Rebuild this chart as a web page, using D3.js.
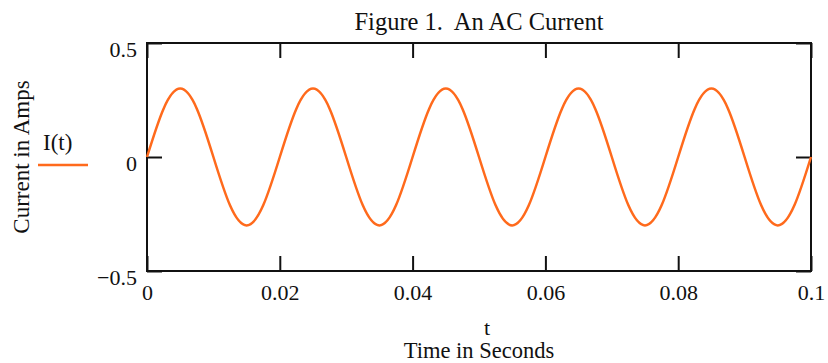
<!DOCTYPE html>
<html>
<head>
<meta charset="utf-8">
<script src="https://cdn.jsdelivr.net/npm/d3@7"></script>
<style>
  body { margin: 0; background: #fff; }
  text { font-family: "Liberation Serif", "Times New Roman", serif; fill: #111; }
</style>
</head>
<body>
<div id="chart"></div>
<script>
// Chart values (eighth-period samples of the current)
let timeValues = [
    0, 0.0025, 0.005, 0.0075, 0.01, 0.0125, 0.015, 0.0175,
    0.02, 0.0225, 0.025, 0.0275, 0.03, 0.0325, 0.035, 0.0375,
    0.04, 0.0425, 0.045, 0.0475, 0.05, 0.0525, 0.055, 0.0575,
    0.06, 0.0625, 0.065, 0.0675, 0.07, 0.0725, 0.075, 0.0775,
    0.08, 0.0825, 0.085, 0.0875, 0.09, 0.0925, 0.095, 0.0975, 0.1
];
let currentValues = [
    0, 0.212, 0.3, 0.212, 0, -0.212, -0.3, -0.212,
    0, 0.212, 0.3, 0.212, 0, -0.212, -0.3, -0.212,
    0, 0.212, 0.3, 0.212, 0, -0.212, -0.3, -0.212,
    0, 0.212, 0.3, 0.212, 0, -0.212, -0.3, -0.212,
    0, 0.212, 0.3, 0.212, 0, -0.212, -0.3, -0.212, 0
];
let xTicks = [0, 0.02, 0.04, 0.06, 0.08, 0.1];
let yTicks = [-0.5, 0, 0.5];

let svgWidth = 828;
let svgHeight = 363;

let margin = { top: 43, right: 17, bottom: 92, left: 147 };
let width = svgWidth - margin.left - margin.right;
let height = svgHeight - margin.top - margin.bottom;

let svg = d3.select("#chart")
    .append("svg")
    .attr("width", svgWidth)
    .attr("height", svgHeight);

let chartGroup = svg.append("g")
    .attr("transform", `translate(${margin.left}, ${margin.top})`);

let xScale = d3.scaleLinear().domain([0, 0.1]).range([0, width]);
let yScale = d3.scaleLinear().domain([-0.5, 0.5]).range([height, 0]);

let xFormat = d => d === 0 ? "0" : d3.format(".2~f")(d);

// bottom axis, ticks pointing inward
let bottomAxis = chartGroup.append("g")
    .attr("transform", `translate(0, ${height})`)
    .call(d3.axisBottom(xScale).tickValues(xTicks).tickSize(-15).tickPadding(13).tickFormat(xFormat));

// top axis, ticks only
let topAxis = chartGroup.append("g")
    .call(d3.axisTop(xScale).tickValues(xTicks).tickSize(-15).tickFormat(""));

// left axis
let leftAxis = chartGroup.append("g")
    .call(d3.axisLeft(yScale).tickValues(yTicks).tickSize(-15).tickPadding(10).tickFormat(d3.format("~g")));

// right axis, ticks only
let rightAxis = chartGroup.append("g")
    .attr("transform", `translate(${width}, 0)`)
    .call(d3.axisRight(yScale).tickValues(yTicks).tickSize(-15).tickFormat(""));

[bottomAxis, topAxis, leftAxis, rightAxis].forEach(a => {
    a.select(".domain").remove();
    a.selectAll(".tick line").attr("stroke", "#111").attr("stroke-width", 2);
    a.selectAll("text")
        .attr("font-family", null)
        .attr("font-size", null)
        .style("font-size", "22px")
        .attr("fill", "#111");
});
leftAxis.selectAll("text").attr("dy", "0.6em");

// plot frame
chartGroup.append("rect")
    .attr("x", 0)
    .attr("y", 0)
    .attr("width", width)
    .attr("height", height)
    .attr("fill", "none")
    .attr("stroke", "#111")
    .attr("stroke-width", 2);

// the current trace
let line = d3.line()
    .x((d, i) => xScale(timeValues[i]))
    .y(d => yScale(d))
    .curve(d3.curveNatural);

chartGroup.append("path")
    .datum(currentValues)
    .attr("d", line)
    .attr("fill", "none")
    .attr("stroke", "#ff6a1c")
    .attr("stroke-width", 2.5);

// title
svg.append("text")
    .attr("x", margin.left + width / 2)
    .attr("y", 30)
    .attr("text-anchor", "middle")
    .style("font-size", "24.5px")
    .style("white-space", "pre")
    .text("Figure 1.  An AC Current");

// x axis labels
svg.append("text")
    .attr("x", margin.left + width / 2 + 8)
    .attr("y", 335)
    .attr("text-anchor", "middle")
    .style("font-size", "22px")
    .text("t");

svg.append("text")
    .attr("x", margin.left + width / 2)
    .attr("y", 358)
    .attr("text-anchor", "middle")
    .style("font-size", "22.5px")
    .text("Time in Seconds");

// y axis label
svg.append("text")
    .attr("transform", `translate(29, 157) rotate(-90)`)
    .attr("text-anchor", "middle")
    .style("font-size", "23px")
    .text("Current in Amps");

// legend
svg.append("text")
    .attr("x", 43)
    .attr("y", 150)
    .style("font-size", "23px")
    .text("I(t)");

svg.append("line")
    .attr("x1", 38)
    .attr("x2", 88)
    .attr("y1", 165)
    .attr("y2", 165)
    .attr("stroke", "#ff6a1c")
    .attr("stroke-width", 2.5);
</script>
</body>
</html>
